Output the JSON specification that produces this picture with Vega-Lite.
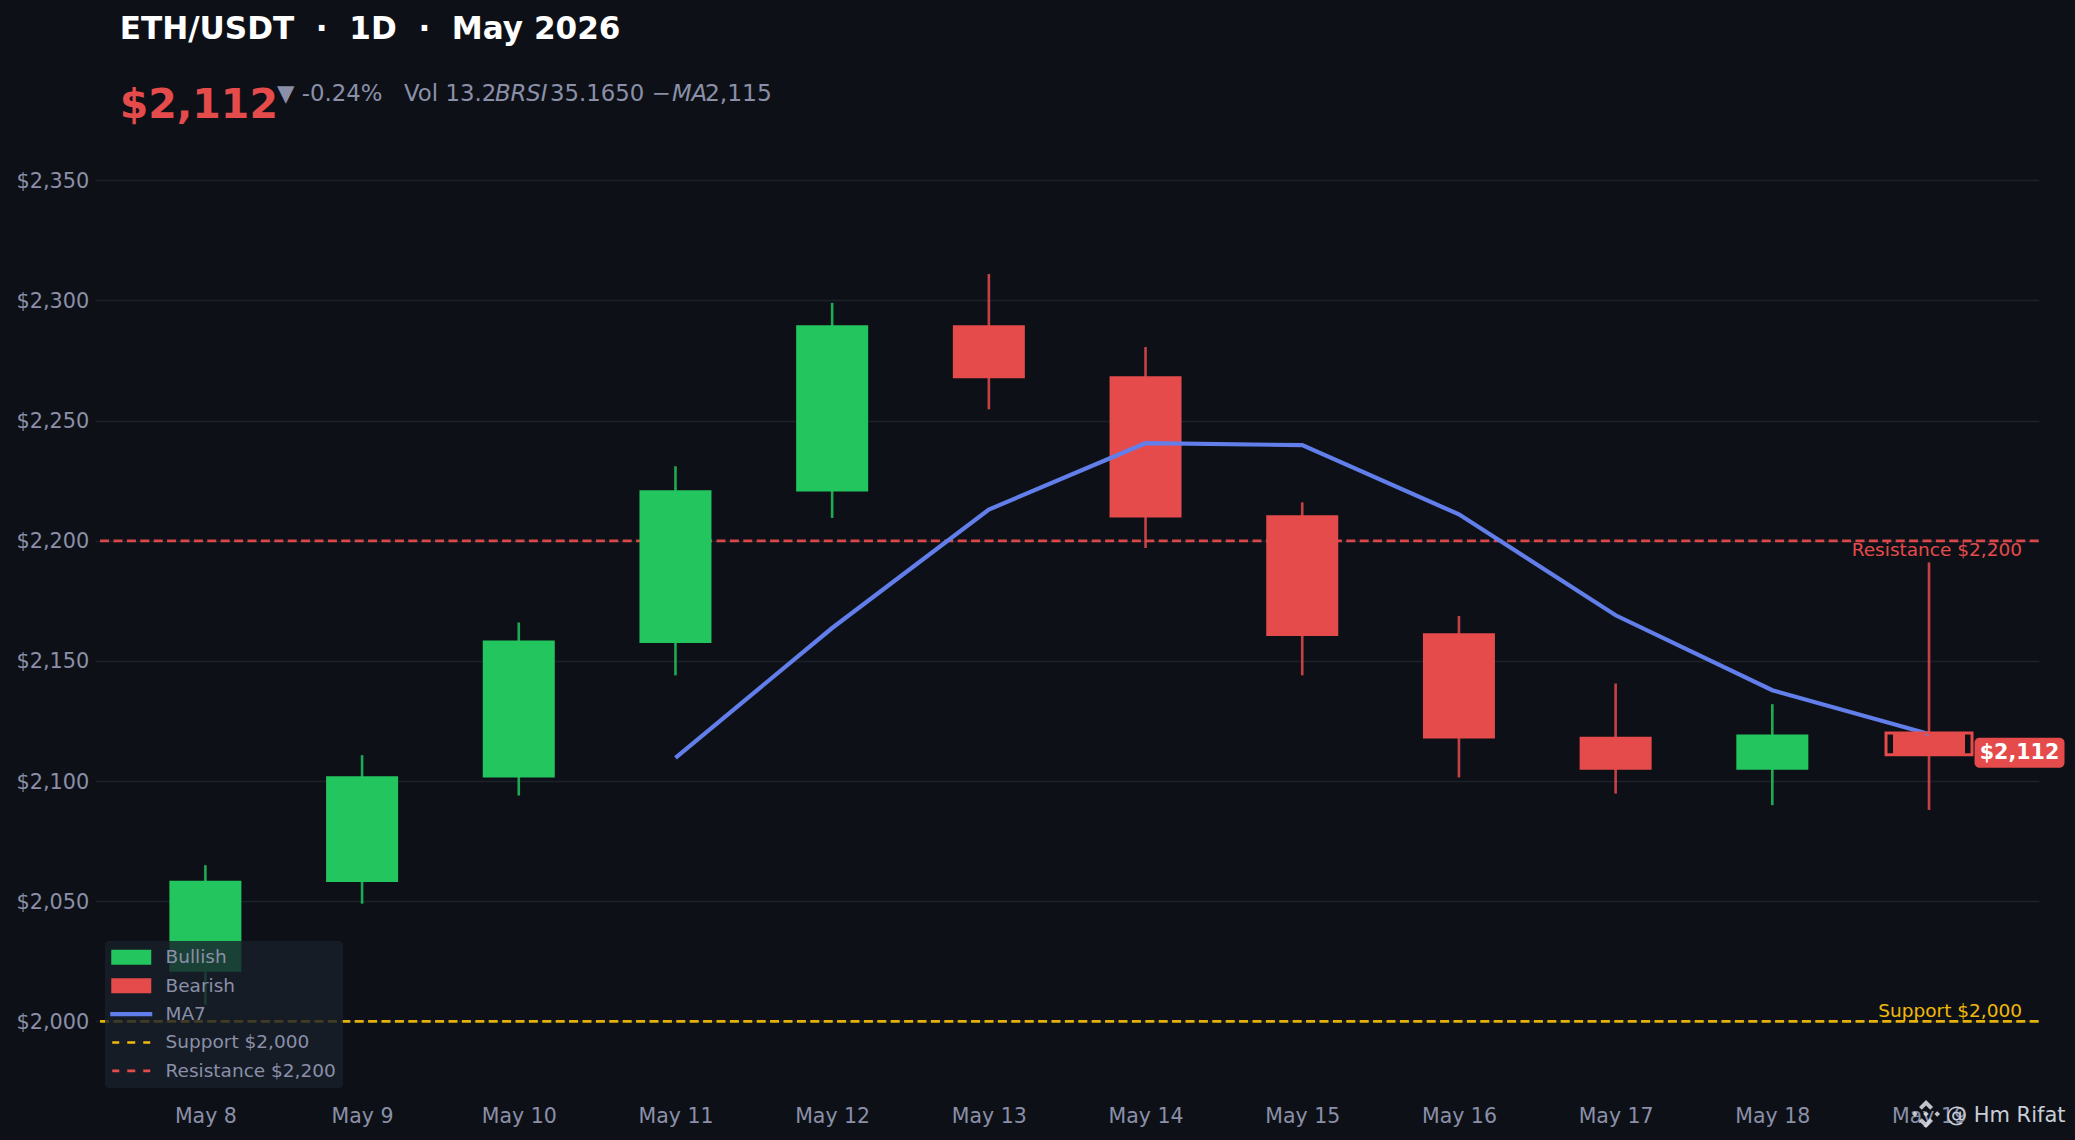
{
  "$schema": "https://vega.github.io/schema/vega-lite/v6.json",
  "width": 1943,
  "height": 968,
  "autosize": {"type": "none"},
  "padding": {"left": 95.7, "top": 132, "right": 36.3, "bottom": 40},
  "background": "#0d1117",
  "config": {"view": {"stroke": null}, "font": "DejaVu Sans"},
  "title": {
    "text": "ETH/USDT\u00a0\u00a0·\u00a0\u00a01D\u00a0\u00a0·\u00a0\u00a0May 2026",
    "subtitle": "$2,112",
    "anchor": "start",
    "frame": "group",
    "dx": 24,
    "offset": -44,
    "font": "DejaVu Sans",
    "fontSize": 31.1,
    "fontWeight": "bold",
    "color": "#ffffff",
    "subtitleFont": "DejaVu Sans",
    "subtitleFontSize": 41,
    "subtitleFontWeight": "bold",
    "subtitleColor": "#e54b4b",
    "subtitlePadding": 41
  },
  "datasets": {
    "candles": [
      {"day": "May 8", "open": 2020.7, "high": 2065, "low": 2007, "close": 2058.5, "dir": "Bullish"},
      {"day": "May 9", "open": 2058, "high": 2110.8, "low": 2049, "close": 2102, "dir": "Bullish"},
      {"day": "May 10", "open": 2101.5, "high": 2166, "low": 2094, "close": 2158.5, "dir": "Bullish"},
      {"day": "May 11", "open": 2157.5, "high": 2231, "low": 2144, "close": 2221, "dir": "Bullish"},
      {"day": "May 12", "open": 2220.5, "high": 2299, "low": 2209.5, "close": 2289.7, "dir": "Bullish"},
      {"day": "May 13", "open": 2289.7, "high": 2311, "low": 2254.7, "close": 2267.6, "dir": "Bearish"},
      {"day": "May 14", "open": 2268.5, "high": 2280.6, "low": 2197, "close": 2209.7, "dir": "Bearish"},
      {"day": "May 15", "open": 2210.6, "high": 2216, "low": 2144, "close": 2160.4, "dir": "Bearish"},
      {"day": "May 16", "open": 2161.5, "high": 2168.7, "low": 2101.5, "close": 2117.7, "dir": "Bearish"},
      {"day": "May 17", "open": 2118.5, "high": 2140.6, "low": 2094.8, "close": 2104.7, "dir": "Bearish"},
      {"day": "May 18", "open": 2104.7, "high": 2132, "low": 2090, "close": 2119.4, "dir": "Bullish"},
      {"day": "May 19", "open": 2120, "high": 2191, "low": 2088, "close": 2111, "dir": "Bearish"}
    ],
    "ma": [
      {"day": "May 11", "ma7": 2109.7},
      {"day": "May 12", "ma7": 2163.7},
      {"day": "May 13", "ma7": 2213},
      {"day": "May 14", "ma7": 2240.6},
      {"day": "May 15", "ma7": 2239.8},
      {"day": "May 16", "ma7": 2211},
      {"day": "May 17", "ma7": 2169},
      {"day": "May 18", "ma7": 2137.8},
      {"day": "May 19", "ma7": 2119.6}
    ],
    "last": [{"day": "May 19", "open": 2120, "close": 2111, "label": "$2,112", "note": "@ Hm Rifat", "res": "Resistance $2,200", "sup": "Support $2,000"}],
    "head": [{"day": "May 8", "a": "▼ -0.24%\u00a0\u00a0\u00a0Vol 13.2", "b": "BRSI", "c": "35.1650 − ", "d": "MA", "e": "2,115"}]
  },
  "encoding": {
    "x": {
      "field": "day",
      "type": "ordinal",
      "title": null,
      "scale": {"type": "point", "padding": 0.7, "round": false, "domain": ["May 8", "May 9", "May 10", "May 11", "May 12", "May 13", "May 14", "May 15", "May 16", "May 17", "May 18", "May 19"]},
      "axis": {"labelAngle": 0, "domain": false, "ticks": false, "grid": false, "labelFontSize": 20.5, "labelColor": "#8b8fa8", "labelPadding": 6, "labelFont": "DejaVu Sans"}
    },
    "y": {
      "type": "quantitative",
      "title": null,
      "scale": {"domain": [1967.3, 2370.1], "nice": false, "zero": false},
      "axis": {"values": [2000, 2050, 2100, 2150, 2200, 2250, 2300, 2350], "format": "$,.0f", "domain": false, "ticks": false, "grid": true, "gridColor": "#1c212b", "gridWidth": 1.3, "labelFontSize": 20.8, "labelColor": "#8b8fa8", "labelPadding": 7, "labelOffset": 1, "labelFont": "DejaVu Sans"}
    }
  },
  "layer": [
    {
      "data": {"values": [{"k": 1}]},
      "mark": {"type": "rule", "stroke": "#f0b90b", "opacity": 0.95, "strokeWidth": 2.8, "strokeDash": [9, 4.4]},
      "encoding": {"x": null, "y": {"datum": 2000}}
    },
    {
      "data": {"values": [{"k": 1}]},
      "mark": {"type": "rule", "stroke": "#e54b4b", "opacity": 0.95, "strokeWidth": 2.8, "strokeDash": [9, 4.4]},
      "encoding": {"x": null, "y": {"datum": 2200}}
    },
    {
      "data": {"name": "candles"},
      "mark": {"type": "rule", "strokeWidth": 2.6, "opacity": 0.85},
      "encoding": {
        "y": {"field": "low"},
        "y2": {"field": "high"},
        "color": {
          "field": "dir",
          "type": "nominal",
          "title": null,
          "scale": {"domain": ["Bullish", "Bearish", "MA7", "Support $2,000", "Resistance $2,200"], "range": ["#22c55e", "#e54b4b", "#627eea", "#f0b90b", "#e54b4b"]},
          "legend": {
            "orient": "none",
            "legendX": 9.3,
            "legendY": 809,
            "fillColor": "#181f2acc",
            "cornerRadius": 4,
            "padding": 7,
            "labelFontSize": 18.5,
            "labelColor": "#8b8fa8",
            "labelFont": "DejaVu Sans",
            "labelLimit": 300,
            "symbolSize": 400,
            "symbolOffset": 10,
            "rowPadding": 9.4,
            "labelOffset": 25,
            "symbolOpacity": 1,
            "encode": {
              "symbols": {
                "update": {
                  "shape": {"signal": "datum.value == 'Bullish' || datum.value == 'Bearish' ? 'M-2,-0.75H2V0.75H-2Z' : datum.value == 'MA7' ? 'M-2.1,0H2.1' : 'M-1.9,0H-1.2M-0.4,0H0.4M1.2,0H1.9'"},
                  "strokeWidth": {"signal": "datum.value == 'Bullish' || datum.value == 'Bearish' ? 0 : datum.value == 'MA7' ? 4.2 : 2.6"},
                  "fill": {"scale": "color", "field": "value"},
                  "stroke": {"scale": "color", "field": "value"}
                }
              }
            }
          }
        }
      }
    },
    {
      "data": {"name": "candles"},
      "mark": {"type": "bar", "size": 72},
      "encoding": {
        "y": {"field": "open"},
        "y2": {"field": "close"},
        "color": {"field": "dir", "type": "nominal"}
      }
    },
    {
      "data": {"name": "ma"},
      "mark": {"type": "line", "stroke": "#627eea", "strokeWidth": 4.2},
      "encoding": {"y": {"field": "ma7"}}
    },
    {
      "data": {"name": "last"},
      "mark": {"type": "bar", "size": 86, "fill": "transparent", "stroke": "#e54b4b", "strokeWidth": 3},
      "encoding": {"y": {"field": "open"}, "y2": {"field": "close"}}
    },
    {
      "data": {"name": "last"},
      "mark": {"type": "bar", "size": 90, "xOffset": 90.5, "fill": "#e54b4b", "cornerRadius": 5},
      "encoding": {"y": {"datum": 2118}, "y2": {"datum": 2105.6}}
    },
    {
      "data": {"name": "last"},
      "mark": {"type": "text", "dx": 90.5, "fontSize": 20.6, "fontWeight": "bold", "color": "#ffffff", "font": "DejaVu Sans", "baseline": "middle"},
      "encoding": {"y": {"datum": 2111.8}, "text": {"field": "label"}}
    },
    {
      "data": {"name": "last"},
      "mark": {"type": "text", "dx": 93, "dy": 9, "align": "right", "baseline": "middle", "fontSize": 18.5, "color": "#e54b4b", "font": "DejaVu Sans"},
      "encoding": {"y": {"datum": 2200}, "text": {"field": "res"}}
    },
    {
      "data": {"name": "last"},
      "mark": {"type": "text", "dx": 93, "dy": -10, "align": "right", "baseline": "middle", "fontSize": 18.5, "color": "#f0b90b", "font": "DejaVu Sans"},
      "encoding": {"y": {"datum": 2000}, "text": {"field": "sup"}}
    },
    {
      "data": {"name": "last"},
      "mark": {"type": "point", "filled": true, "opacity": 0.85, "color": "#e2e4ea", "size": 784, "xOffset": -3, "shape": "M0,-1L0.5,-0.5L0.3,-0.3L0,-0.6L-0.3,-0.3L-0.5,-0.5ZM0,1L0.5,0.5L0.3,0.3L0,0.6L-0.3,0.3L-0.5,0.5ZM-1,0L-0.8,-0.2L-0.6,0L-0.8,0.2ZM1,0L0.8,-0.2L0.6,0L0.8,0.2ZM0,-0.2L0.2,0L0,0.2L-0.2,0Z"},
      "encoding": {"y": {"datum": 1961.5}}
    },
    {
      "data": {"name": "last"},
      "mark": {"type": "text", "dx": 17, "align": "left", "baseline": "middle", "fontSize": 21, "color": "#c9cdd8", "font": "DejaVu Sans"},
      "encoding": {"y": {"datum": 1960.5}, "text": {"field": "note"}}
    },
    {
      "data": {"name": "head"},
      "mark": {"type": "text", "dx": 71.5, "align": "left", "baseline": "alphabetic", "fontSize": 22.8, "color": "#8b8fa8", "font": "DejaVu Sans"},
      "encoding": {"y": {"datum": 2383}, "text": {"field": "a"}}
    },
    {
      "data": {"name": "head"},
      "mark": {"type": "text", "dx": 289.5, "align": "left", "baseline": "alphabetic", "fontSize": 22.8, "fontStyle": "italic", "color": "#8b8fa8", "font": "DejaVu Sans"},
      "encoding": {"y": {"datum": 2383}, "text": {"field": "b"}}
    },
    {
      "data": {"name": "head"},
      "mark": {"type": "text", "dx": 344.5, "align": "left", "baseline": "alphabetic", "fontSize": 22.8, "color": "#8b8fa8", "font": "DejaVu Sans"},
      "encoding": {"y": {"datum": 2383}, "text": {"field": "c"}}
    },
    {
      "data": {"name": "head"},
      "mark": {"type": "text", "dx": 466.5, "align": "left", "baseline": "alphabetic", "fontSize": 22.8, "fontStyle": "italic", "color": "#8b8fa8", "font": "DejaVu Sans"},
      "encoding": {"y": {"datum": 2383}, "text": {"field": "d"}}
    },
    {
      "data": {"name": "head"},
      "mark": {"type": "text", "dx": 499.5, "align": "left", "baseline": "alphabetic", "fontSize": 23.4, "color": "#8b8fa8", "font": "DejaVu Sans"},
      "encoding": {"y": {"datum": 2383}, "text": {"field": "e"}}
    }
  ]
}
